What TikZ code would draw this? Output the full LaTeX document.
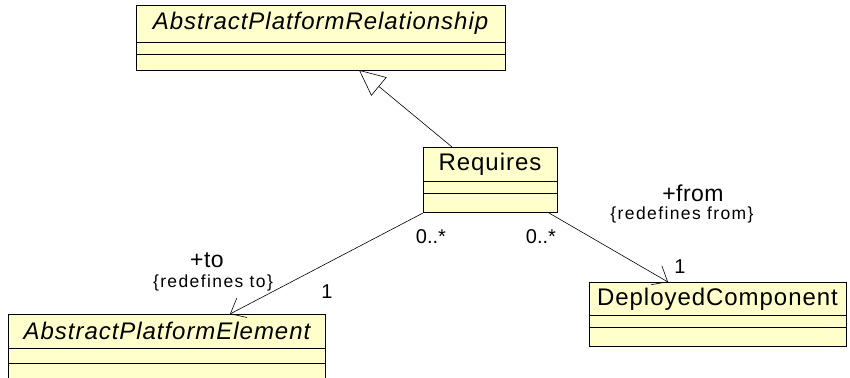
\documentclass[tikz,border=0pt]{standalone}
\usepackage{fontspec}
\setmainfont{Liberation Sans}
\usetikzlibrary{arrows.meta}
\definecolor{classfill}{HTML}{FFFFCC}
\tikzset{
  classbox/.style={draw=black, line width=1pt, fill=classfill, inner sep=0pt, anchor=north west},
  divider/.style={draw=black, line width=0.7pt},
  classname/.style={inner sep=0pt, font=\fontsize{24}{26}\selectfont\addfontfeature{LetterSpace=4}},
  abstractname/.style={classname, font=\fontsize{24}{26}\selectfont\itshape\addfontfeature{LetterSpace=4}},
  rolename/.style={inner sep=0pt, font=\fontsize{23}{25}\selectfont\addfontfeature{LetterSpace=2}},
  constraint/.style={inner sep=0pt, font=\fontsize{17.5}{19}\selectfont\addfontfeature{LetterSpace=8}},
  mult/.style={inner sep=0pt, font=\fontsize{20}{22}\selectfont},
  assoc/.style={draw=black, line width=0.6pt, -{Straight Barb[length=13pt,width=22pt,line width=0.6pt]}},
  general/.style={draw=black, line width=0.6pt, -{Triangle[open, length=26pt, width=24pt, line width=0.6pt, fill=white]}},
}
\begin{document}
\begin{tikzpicture}[x=1pt,y=1pt]
\useasboundingbox (0,0) rectangle (850,-377);
% AbstractPlatformRelationship
\node[classbox, minimum width=369pt, minimum height=65pt] (apr) at (136,-5) {};
\draw[divider] (136,-42) -- (505,-42);
\draw[divider] (136,-54) -- (505,-54);
\node[abstractname] (aprname) at (320.5,-23.5) {AbstractPlatformRelationship};
% Requires
\node[classbox, minimum width=134pt, minimum height=65pt] (req) at (423,-147) {};
\draw[divider] (423,-181) -- (557,-181);
\draw[divider] (423,-193) -- (557,-193);
\node[classname] (reqname) at (490,-164) {Requires};
% AbstractPlatformElement
\node[classbox, minimum width=317pt, minimum height=70pt] (ape) at (8,-314) {};
\draw[divider] (8,-348) -- (325,-348);
\draw[divider] (8,-363) -- (325,-363);
\node[abstractname] (apename) at (167,-331) {AbstractPlatformElement};
% DeployedComponent
\node[classbox, minimum width=257pt, minimum height=64pt] (dc) at (589,-282) {};
\draw[divider] (589,-315) -- (846,-315);
\draw[divider] (589,-327) -- (846,-327);
\node[classname] (dcname) at (717.5,-299) {DeployedComponent};
% connector endpoints
\coordinate (reqtop) at ([xshift=29pt]req.north west);
\coordinate (aprbot) at (359,-70);
\coordinate (reqbl) at (req.south west);
\coordinate (apetop) at (230,-314);
\coordinate (reqbr) at ([xshift=-9pt]req.south east);
\coordinate (dctop) at (668,-282);
% generalization
\draw[general] (reqtop) -- (aprbot);
% associations
\draw[assoc] (reqbl) -- (apetop);
\draw[assoc] (reqbr) -- (dctop);
% labels
\node[rolename] (toname) at (207,-260) {+to};
\node[constraint] (tocons) at (213,-283) {\{redefines to\}};
\node[mult] (tomult) at (327,-292) {1};
\node[mult] (frommultl) at (431,-237) {0..*};
\node[mult] (frommultr) at (541,-237) {0..*};
\node[rolename] (fromname) at (693,-193) {+from};
\node[constraint] (fromcons) at (682,-215) {\{redefines from\}};
\node[mult] (dcmult) at (680,-267) {1};
\end{tikzpicture}
\end{document}
